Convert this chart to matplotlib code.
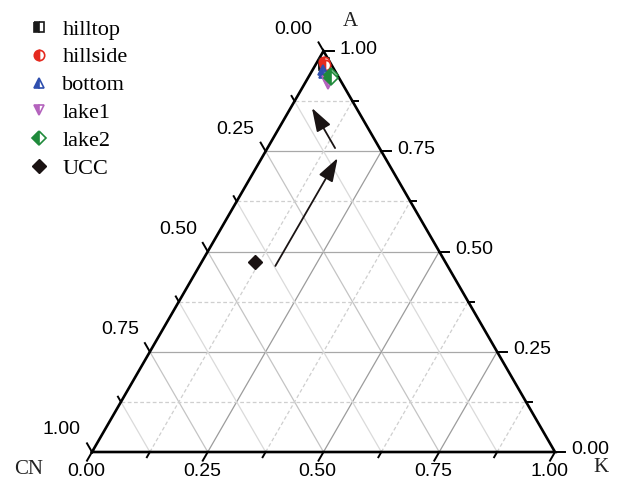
import numpy as np
import matplotlib.pyplot as plt

# A-CN-K ternary: fractions of A and K (CN = 1 - A - K)
groups = ["hilltop", "hillside", "bottom", "lake1", "lake2"]
A_vals = {
    "hilltop": [0.970, 0.966],
    "hillside": [0.972, 0.965],
    "bottom": [0.952, 0.945],
    "lake1": [0.925, 0.918],
    "lake2": [0.940, 0.932],
}
K_vals = {
    "hilltop": [0.016, 0.019],
    "hillside": [0.016, 0.020],
    "bottom": [0.022, 0.028],
    "lake1": [0.045, 0.050],
    "lake2": [0.046, 0.050],
}
ucc_A, ucc_K = 0.474, 0.115

# weathering trend arrows (tail A, tail K, head A, head K)
arrows = [
    (0.464, 0.164, 0.733, 0.164),
    (0.758, 0.146, 0.858, 0.046),
]

ticks = [0.0, 0.25, 0.5, 0.75, 1.0]
minor = [0.125, 0.375, 0.625, 0.875]
tick_labels = ["0.00", "0.25", "0.50", "0.75", "1.00"]

colors = {"hilltop": "#1a1a1a", "hillside": "#e52a1f", "bottom": "#2f4fae",
          "lake1": "#b463bd", "lake2": "#1f8a3b"}
markers = {"hilltop": "s", "hillside": "o", "bottom": "^", "lake1": "v", "lake2": "D"}

h = np.sqrt(3) / 2
S = 463.0  # pixels per unit side


def tern(a, k):
    a = np.asarray(a, float)
    k = np.asarray(k, float)
    return k + a / 2, a * h


def px(n):
    return n / S


fig = plt.figure(figsize=(6.38, 4.82), dpi=100)
ax = fig.add_axes([0, 0, 1, 1])
ax.set_xlim(-92 / S, (638 - 92) / S)
ax.set_ylim(-30 / S, 452 / S)
ax.axis("off")

# grid lines
for v in ticks[1:-1] + minor:
    major = v in ticks
    # constant A (horizontal)
    x0, y0 = tern(v, 0)
    x1, y1 = tern(v, 1 - v)
    ax.plot([x0, x1], [y0, y1], color="#a8a8a8" if major else "#cfcfcf",
            ls="-" if major else (0, (3, 2)), lw=0.9, zorder=1)
    # constant K
    x0, y0 = tern(0, v)
    x1, y1 = tern(1 - v, v)
    ax.plot([x0, x1], [y0, y1], color="#9c9c9c" if major else "#cfcfcf",
            ls="-" if major else (0, (3, 2)), lw=0.9, zorder=1)
    # constant CN
    x0, y0 = tern(0, 1 - v)
    x1, y1 = tern(1 - v, 0)
    ax.plot([x0, x1], [y0, y1], color="#c4c4c4" if major else "#dadada",
            ls="-", lw=0.9, zorder=1)

# triangle frame
fx, fy = tern([0, 0, 1, 0], [0, 1, 0, 0])
ax.plot(fx, fy, color="black", lw=1.9, zorder=3, solid_joinstyle="miter")

lab_font = dict(family="Liberation Sans", fontsize=14, color="black")

for v in ticks + minor:
    L = px(10) if v in ticks else px(6)
    # bottom axis (K)
    x0, y0 = tern(0, v)
    ax.plot([x0, x0 - 0.5 * L], [y0, y0 - h * L], color="black", lw=1.4, zorder=3)
    # right axis (A)
    x0, y0 = tern(v, 1 - v)
    ax.plot([x0, x0 + L], [y0, y0], color="black", lw=1.4, zorder=3)
    # left axis (CN)
    x0, y0 = tern(1 - v, 0)
    ax.plot([x0, x0 - 0.5 * L], [y0, y0 + h * L], color="black", lw=1.4, zorder=3)

for v, t in zip(ticks, tick_labels):
    x0, y0 = tern(0, v)
    ax.text(x0 - px(6), y0 - px(19), t, ha="center", va="center", **lab_font)
    x0, y0 = tern(v, 1 - v)
    ax.text(x0 + px(16), y0 + px(2), t, ha="left", va="center", **lab_font)
    x0, y0 = tern(1 - v, 0)
    ax.text(x0 - px(30), y0 + px(22), t, ha="center", va="center", **lab_font)

corner_font = dict(family="Liberation Serif", fontsize=15, color="#222222")
ax.text(px(350 - 92), px(452 - 22), "A", ha="center", va="center", **corner_font)
ax.text(px(29 - 92), px(452 - 469), "CN", ha="center", va="center", **corner_font)
ax.text(px(601 - 92), px(452 - 467), "K", ha="center", va="center", **corner_font)

# trend arrows
for a0, k0, a1, k1 in arrows:
    xs, ys = tern([a0, a1], [k0, k1])
    ax.annotate("", xy=(xs[1], ys[1]), xytext=(xs[0], ys[0]),
                arrowprops=dict(arrowstyle="-|>,head_length=0.9,head_width=0.3",
                                color="#1a1414", lw=1.3, shrinkA=0, shrinkB=0,
                                mutation_scale=16), zorder=4)

handles = []
for g in groups:
    x, y = tern(A_vals[g], K_vals[g])
    ln, = ax.plot(x, y, ls="none", marker=markers[g], ms=7.5 if markers[g] != "D" else 7,
                  color=colors[g], mec=colors[g], mew=1.2, fillstyle="left",
                  markerfacecoloralt="white", label=g, zorder=5)
    handles.append(ln)

x, y = tern(ucc_A, ucc_K)
ln, = ax.plot(x, y, ls="none", marker="D", ms=7, color="#1a1212", label="UCC", zorder=5)
handles.append(ln)

leg = ax.legend(handles=handles, loc="upper left", bbox_to_anchor=(28 / 638, 1 - 19 / 482),
                bbox_transform=fig.transFigure, frameon=False, handlelength=1.0,
                handletextpad=0.55, labelspacing=0.33, borderpad=0, borderaxespad=0,
                markerscale=1.0, prop=dict(family="Liberation Serif", size=16))

fig.savefig("out.png", dpi=100)
